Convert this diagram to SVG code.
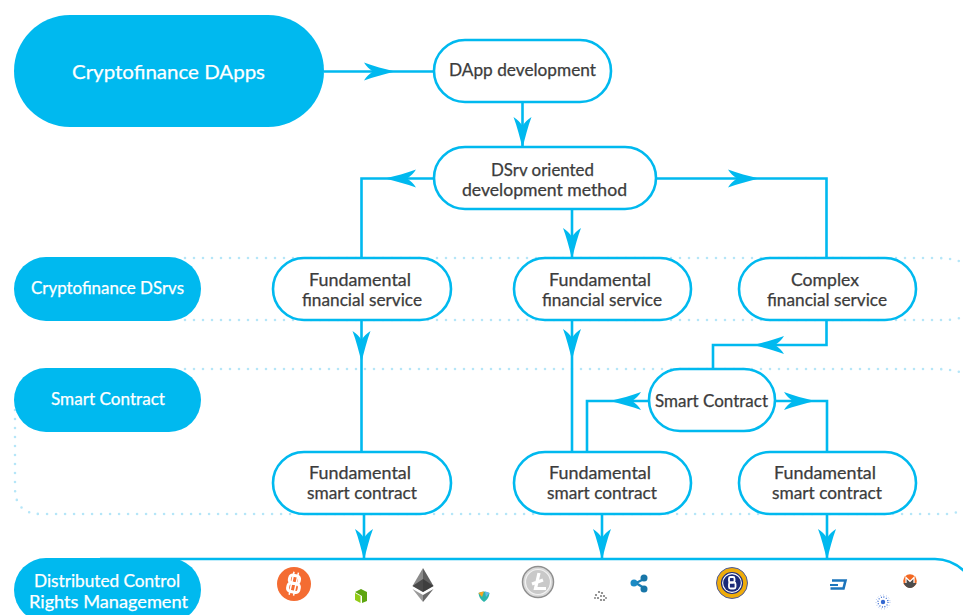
<svg xmlns="http://www.w3.org/2000/svg" width="963" height="615" viewBox="0 0 963 615">
<style>
text{font-family:"Lato","Open Sans","Liberation Sans",sans-serif;font-size:16.5px;fill:#3c3c3c;text-anchor:middle;stroke:#3c3c3c;stroke-width:.25}
text.w{fill:#fff;stroke:#fff}
.pill{fill:#fff;stroke:#00b9ef;stroke-width:2.6}
.tag{fill:#00b9ef}
.c{fill:none;stroke:#00b9ef;stroke-width:2.6}
.dot{fill:none;stroke:#b5e6f8;stroke-width:2.6;stroke-dasharray:0 9;stroke-linecap:round}
</style>
<defs>
<marker id="a" markerUnits="userSpaceOnUse" markerWidth="34" markerHeight="24" viewBox="-30 -12 34 24" refX="0" refY="0" orient="auto">
<path d="M2 0 C-8 -2.500 -20 -5.500 -29 -9 C-26.500 -5 -24 -2.500 -20 0 C-24 2.500 -26.500 5 -29 9 C-20 5.500 -8 2.500 2 0Z" fill="#00b9ef"/>
</marker>
</defs>
<g id="frames">
<path class="dot" d="M185 258H935Q963 258 975 270M185 320H945Q960 320 975 312"/>
<path class="dot" d="M185 369H935Q963 369 975 380M15 410V488Q15 514 41 514H945Q958 514 975 504"/>
</g>
<g id="connectors">
<path class="c" marker-end="url(#a)" d="M324 71.500H393"/><path class="c" d="M393 71.500H434"/>
<path class="c" marker-end="url(#a)" d="M522.500 102V146"/>
<path class="c" marker-end="url(#a)" d="M434 178.500H387"/><path class="c" d="M387 178.500H361.500V258"/>
<path class="c" marker-end="url(#a)" d="M656 178.500H757"/><path class="c" d="M757 178.500H826.500V258"/>
<path class="c" marker-end="url(#a)" d="M572 209V257"/>
<path class="c" marker-end="url(#a)" d="M361.500 320V360"/><path class="c" d="M361.500 360V452"/>
<path class="c" marker-end="url(#a)" d="M572 320V358"/><path class="c" d="M572 358V452"/>
<path class="c" marker-end="url(#a)" d="M826.500 320V345H755"/><path class="c" d="M755 345H713V369"/>
<path class="c" marker-end="url(#a)" d="M649 401H612"/><path class="c" d="M612 401H587V452"/>
<path class="c" marker-end="url(#a)" d="M775 401H813"/><path class="c" d="M813 401H827V452"/>
<path class="c" marker-end="url(#a)" d="M364 514V558"/>
<path class="c" marker-end="url(#a)" d="M602 514V558"/>
<path class="c" marker-end="url(#a)" d="M827 514V558"/>
</g>
<g id="rights-panel"><path class="c" d="M100 559H935Q952 559 965 572"/></g>
<g id="cryptofinance-dapps"><rect class="tag" x="14" y="15" width="310" height="112" rx="56"/><text class="w" x="168.500" y="79" style="font-size:20px" textLength="193" lengthAdjust="spacingAndGlyphs">Cryptofinance DApps</text></g>
<g id="dapp-development"><rect class="pill" x="434" y="40" width="177" height="62" rx="31"/><text x="522.500" y="76" textLength="147" lengthAdjust="spacingAndGlyphs">DApp development</text></g>
<g id="dsrv-method"><rect class="pill" x="434" y="147" width="222" height="62" rx="31"/><text x="542.500" y="176" textLength="103" lengthAdjust="spacingAndGlyphs">DSrv oriented</text><text x="544.500" y="196" textLength="165" lengthAdjust="spacingAndGlyphs">development method</text></g>
<g id="tag-dsrvs"><rect class="tag" x="14" y="257" width="187" height="64" rx="32"/><text class="w" x="107.500" y="294" textLength="153" lengthAdjust="spacingAndGlyphs">Cryptofinance DSrvs</text></g>
<g id="tag-smart-contract"><rect class="tag" x="14" y="368" width="187" height="64" rx="32"/><text class="w" x="108" y="405" textLength="114" lengthAdjust="spacingAndGlyphs">Smart Contract</text></g>
<g id="tag-rights"><rect class="tag" x="14" y="558" width="187" height="64" rx="32"/><text class="w" x="107" y="587" textLength="146" lengthAdjust="spacingAndGlyphs">Distributed Control</text><text class="w" x="108.500" y="608" textLength="159" lengthAdjust="spacingAndGlyphs">Rights Management</text></g>
<g id="service-1"><rect class="pill" x="273" y="258" width="178" height="62" rx="31"/><text x="360" y="286" textLength="102" lengthAdjust="spacingAndGlyphs">Fundamental</text><text x="362" y="306" textLength="120" lengthAdjust="spacingAndGlyphs">financial service</text></g>
<g id="service-2"><rect class="pill" x="514" y="258" width="177" height="62" rx="31"/><text x="600" y="286" textLength="102" lengthAdjust="spacingAndGlyphs">Fundamental</text><text x="602" y="306" textLength="120" lengthAdjust="spacingAndGlyphs">financial service</text></g>
<g id="service-3"><rect class="pill" x="739" y="258" width="177" height="62" rx="31"/><text x="825" y="286" textLength="68" lengthAdjust="spacingAndGlyphs">Complex</text><text x="827" y="306" textLength="120" lengthAdjust="spacingAndGlyphs">financial service</text></g>
<g id="smart-contract"><rect class="pill" x="649" y="369" width="126" height="62" rx="31"/><text x="711.500" y="407" textLength="113" lengthAdjust="spacingAndGlyphs">Smart Contract</text></g>
<g id="contract-1"><rect class="pill" x="273" y="452" width="178" height="62" rx="31"/><text x="360" y="479" textLength="102" lengthAdjust="spacingAndGlyphs">Fundamental</text><text x="362" y="499" textLength="110" lengthAdjust="spacingAndGlyphs">smart contract</text></g>
<g id="contract-2"><rect class="pill" x="514" y="452" width="177" height="62" rx="31"/><text x="600" y="479" textLength="102" lengthAdjust="spacingAndGlyphs">Fundamental</text><text x="602" y="499" textLength="110" lengthAdjust="spacingAndGlyphs">smart contract</text></g>
<g id="contract-3"><rect class="pill" x="739" y="452" width="177" height="62" rx="31"/><text x="825" y="479" textLength="102" lengthAdjust="spacingAndGlyphs">Fundamental</text><text x="827" y="499" textLength="110" lengthAdjust="spacingAndGlyphs">smart contract</text></g>
<g id="logo-bitcoin"><circle cx="294" cy="584" r="17" fill="#f46c32"/><g transform="rotate(12 294 584)" fill="none" stroke="#fff" stroke-width="3"><rect x="288.500" y="575.500" width="10" height="8" rx="3"/><rect x="288.500" y="583.500" width="11.500" height="8.500" rx="3"/><path d="M291.500 572V595.500M296 572V595.500" stroke-width="1.500"/></g></g>
<g id="logo-neo"><path d="M355 592L361 589L367 592V601L362 603V596L355 592Z" fill="#5da50f"/><path d="M355 593L360.500 596V603L355 600Z" fill="#92cb16"/></g>
<g id="logo-ethereum"><path d="M423 568L412.500 586L423 592Z" fill="#8a8a8a"/><path d="M423 568L433.500 586L423 592Z" fill="#5f5f5f"/><path d="M423 579L412.500 586L423 592L433.500 586Z" fill="#333" opacity=".75"/><path d="M412.500 589L423 595V602Z" fill="#9a9a9a"/><path d="M433.500 589L423 595V602Z" fill="#6a6a6a"/></g>
<g id="logo-nem"><path d="M478.500 593Q484 590 489.500 593Q489 599 484 602Q479 599 478.500 593Z" fill="#2cb5aa"/><path d="M478.500 593Q481 591.500 484 591.500L482 597Z" fill="#f6a623"/><path d="M489.500 593Q487 591.500 485 591.500L486 597Z" fill="#66b7e8"/></g>
<g id="logo-litecoin"><circle cx="538" cy="582" r="15.500" fill="#d9d9d9" stroke="#8f8f8f" stroke-width="1.500"/><circle cx="538" cy="582" r="12.500" fill="#c9c9c9" stroke="#f2f2f2" stroke-width="1.200"/><path d="M539 573L535.500 588.500H546M532 584L543 580" fill="none" stroke="#fff" stroke-width="3.200"/></g>
<g id="logo-iota" fill="#7a7a7a"><circle cx="596" cy="595" r="1.100"/><circle cx="599" cy="592" r="1.100"/><circle cx="602" cy="593" r="1.100"/><circle cx="604" cy="596" r="1.100"/><circle cx="601" cy="596" r="1"/><circle cx="598" cy="598" r="1.100"/><circle cx="601" cy="600" r="1.100"/><circle cx="604" cy="600" r="1.100"/><circle cx="595" cy="598" r=".9"/><circle cx="606" cy="598" r=".9"/></g>
<g id="logo-ripple"><path d="M644 579L636 583L644 588" fill="none" stroke="#1b7fb6" stroke-width="2.400"/><circle cx="634" cy="583" r="3.500" fill="#1b8ac4"/><circle cx="644" cy="578" r="3.500" fill="#1876a8"/><circle cx="644" cy="589" r="3.500" fill="#1876a8"/></g>
<g id="logo-bitcoin-gold"><circle cx="732" cy="583" r="15.500" fill="#efac0a" stroke="#4c5a9c" stroke-width="1"/><circle cx="732" cy="583" r="10.500" fill="#fff" stroke="#1f2d7a" stroke-width="1.200"/><circle cx="732" cy="583" r="8.800" fill="#1b2a78"/><rect x="729" y="577" width="5.500" height="5.500" rx="1.500" fill="none" stroke="#fff" stroke-width="1.800"/><rect x="729" y="582.500" width="6.500" height="6" rx="1.500" fill="none" stroke="#fff" stroke-width="1.800"/></g>
<g id="logo-dash" fill="none" stroke="#1c75bc" stroke-width="2.600"><path d="M832 580.500H845.500L843.500 588.500H830.500"/><path d="M830 585H838" stroke-width="2"/></g>
<g id="logo-monero"><circle cx="910" cy="581" r="6.800" fill="#f26822"/><path d="M903.500 583H906V578L910 582L914 578V583H916.500Q914 588 910 588Q906 588 903.500 583Z" fill="#4c4c4c"/><path d="M906 583V577.500L910 581.500L914 577.500V583" fill="none" stroke="#fff" stroke-width="1.200"/></g>
<g id="logo-cardano" fill="#3468d1"><circle cx="883" cy="602" r="2.200"/><circle cx="883" cy="602" r="5" fill="none" stroke="#3468d1" stroke-width="1.300" stroke-dasharray="1 1.600"/><circle cx="883" cy="602" r="7" fill="none" stroke="#9cb6ea" stroke-width="1" stroke-dasharray=".8 2.200"/></g>
</svg>
